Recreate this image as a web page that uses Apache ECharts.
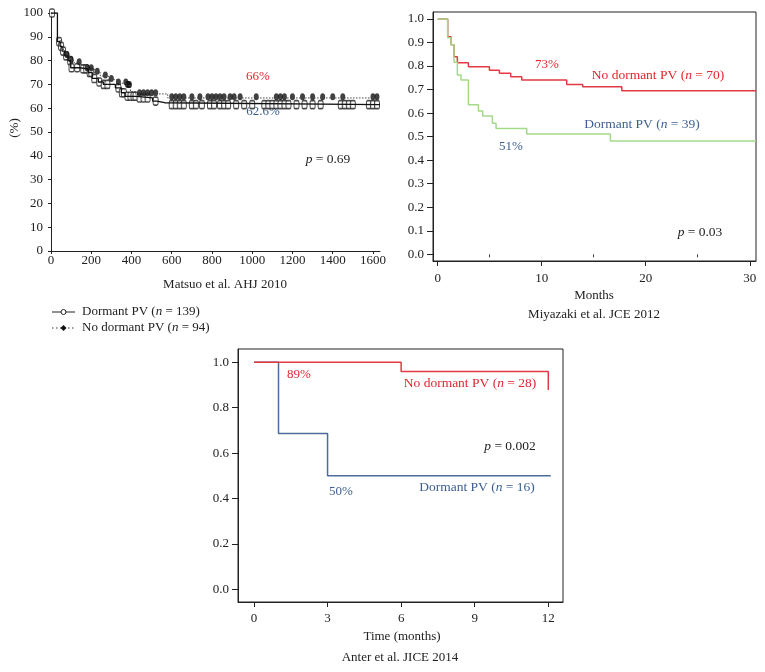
<!DOCTYPE html>
<html>
<head>
<meta charset="utf-8">
<script src="https://cdn.jsdelivr.net/npm/echarts@6/dist/echarts.min.js"></script>
<style>html,body{margin:0;padding:0;background:#fff}#c{width:765px;height:672px}</style>
</head>
<body>
<div id="c"></div>
<script>
// ---- Panel A: Matsuo et al. AHJ 2010 (days, %)
var matsuoDormantT = [0, 32, 45, 55, 68, 85, 98, 140, 185, 205, 235, 260, 320, 350, 368, 425, 505, 525, 565, 1635];
var matsuoDormantS = [100, 88, 86, 84, 82, 80, 77, 76.5, 75, 72.5, 71, 70, 68.5, 66.5, 65, 64.3, 63, 62.3, 61.5, 61.5];
var matsuoNoDormT = [0, 32, 48, 62, 75, 90, 115, 150, 180, 215, 245, 285, 330, 375, 395, 420, 580, 1635];
var matsuoNoDormS = [100, 88.5, 86, 84, 82, 80, 79, 78, 76.5, 75, 73.5, 72, 70.5, 69.5, 67, 66, 64.3, 64.3];
var matsuoDormantCensor = [5, 40, 50, 60, 75, 95, 102, 130, 160, 175, 192, 200, 215, 240, 262, 280, 335, 352, 362, 380, 395, 410, 420, 440, 460, 480, 520, 600, 620, 640, 660, 700, 720, 750, 790, 810, 840, 860, 880, 920, 960, 1000, 1060, 1080, 1100, 1120, 1140, 1160, 1180, 1220, 1260, 1300, 1340, 1440, 1460, 1480, 1500, 1580, 1600, 1620];
var matsuoNoDormCensor = [80, 100, 140, 180, 200, 230, 270, 300, 335, 372, 380, 385, 390, 440, 460, 480, 500, 520, 600, 620, 640, 660, 700, 740, 780, 800, 820, 840, 860, 890, 910, 940, 1020, 1120, 1140, 1160, 1200, 1250, 1300, 1350, 1400, 1450, 1600, 1620];
var matsuoXTicks = [0, 200, 400, 600, 800, 1000, 1200, 1400, 1600];
var matsuoYTicks = [0, 10, 20, 30, 40, 50, 60, 70, 80, 90, 100];

// ---- Panel B: Miyazaki et al. JCE 2012 (months, proportion)
var miyaNoDormT = [0, 0.96, 1.28, 1.57, 1.89, 2.95, 4.97, 5.93, 7.02, 8.08, 12.4, 13.94, 17.7, 30.6];
var miyaNoDormS = [1.0, 0.925, 0.89, 0.84, 0.814, 0.797, 0.782, 0.769, 0.754, 0.741, 0.722, 0.712, 0.695, 0.695];
var miyaDormT = [0, 0.96, 1.28, 1.57, 1.89, 2.24, 2.95, 3.91, 4.33, 5.26, 5.61, 8.56, 16.6, 30.6];
var miyaDormS = [1.0, 0.92, 0.89, 0.816, 0.762, 0.741, 0.635, 0.609, 0.588, 0.557, 0.535, 0.511, 0.482, 0.482];
var miyaXLabels = [0, 10, 20, 30];
var miyaXMinorTicks = [5, 15, 25];
var miyaYTicks = [0, 0.1, 0.2, 0.3, 0.4, 0.5, 0.6, 0.7, 0.8, 0.9, 1.0];

// ---- Panel C: Anter et al. JICE 2014 (months, proportion)
var anterDormT = [0, 1, 3, 12.1];
var anterDormS = [1.0, 0.687, 0.5, 0.5];
var anterNoDormT = [0, 6, 12];
var anterNoDormS = [1.0, 0.959, 0.878];
var anterXTicks = [0, 3, 6, 9, 12];
var anterYTicks = [0, 0.2, 0.4, 0.6, 0.8, 1.0];

var FONT = 'Liberation Serif';
var RED = '#e2262f', BLUE = '#3d5f8f', GREEN = '#a5d98a', RED2 = '#e23a44', BLUE2 = '#4b6c9b';

function pairs(T, S) { return T.map(function (t, i) { return [t, S[i]]; }); }
function stepAt(T, S, t) { var v = S[0]; for (var i = 0; i < T.length; i++) { if (T[i] <= t) v = S[i]; } return v; }
function censorPts(C, T, S) { return C.map(function (t) { return [t, stepAt(T, S, t)]; }); }
function fmt1(v) { return v.toFixed(1); }
function fmt0(v) { return String(v); }

function xAx(idx, min, max, labels, ticks, margin, tickLen, fmt) {
  return {
    type: 'value', gridIndex: idx, min: min, max: max,
    splitLine: { show: false },
    axisLine: { show: true, onZero: false, lineStyle: { color: '#222', width: 1 } },
    axisTick: { show: true, length: tickLen, customValues: ticks, lineStyle: { color: '#222' } },
    axisLabel: { customValues: labels, margin: margin, color: '#222', fontFamily: FONT, fontSize: 13, formatter: fmt }
  };
}
function yAx(idx, min, max, labels, margin, tickLen, fmt) {
  return {
    type: 'value', gridIndex: idx, min: min, max: max,
    splitLine: { show: false },
    axisLine: { show: true, onZero: false, lineStyle: { color: '#222', width: 1 } },
    axisTick: { show: true, length: tickLen, customValues: labels, lineStyle: { color: '#222' } },
    axisLabel: { customValues: labels, margin: margin, color: '#222', fontFamily: FONT, fontSize: 13, formatter: fmt }
  };
}
function txt(x, y, s, color, size, extra) {
  var o = {
    type: 'text', x: x, y: y, silent: true,
    style: {
      text: s, fill: color || '#222', font: (size || 13) + 'px ' + FONT,
      align: 'center', verticalAlign: 'middle',
      rich: { i: { fontStyle: 'italic', fontFamily: FONT, fontSize: size || 13, fill: color || '#222' } }
    }
  };
  if (extra) for (var k in extra) o[k] = extra[k];
  return o;
}

var minorAxis = {
  type: 'value', gridIndex: 1, min: -0.452, max: 30.6,
  splitLine: { show: false }, axisLine: { show: false }, axisLabel: { show: false },
  axisTick: { show: true, inside: true, length: 3, customValues: miyaXMinorTicks, lineStyle: { color: '#444' } }
};

var chart = echarts.init(document.getElementById('c'), null, { renderer: 'canvas' });
var option = {
  backgroundColor: '#fff',
  animation: false,
  grid: [
    { left: 51, top: 13, width: 329, height: 238, show: false, outerBoundsMode: 'none' },
    { left: 433, top: 12, width: 323, height: 249, show: true, borderColor: '#222', borderWidth: 1, outerBoundsMode: 'none' },
    { left: 238, top: 349, width: 325, height: 253, show: true, borderColor: '#222', borderWidth: 1, outerBoundsMode: 'none' }
  ],
  xAxis: [
    xAx(0, 0, 1635, matsuoXTicks, matsuoXTicks, 3, 3, fmt0),
    xAx(1, -0.452, 30.6, miyaXLabels, miyaXLabels, 11, 5, fmt0),
    xAx(2, -0.652, 12.6, anterXTicks, anterXTicks, 10, 5, fmt0),
    minorAxis
  ],
  yAxis: [
    yAx(0, 0, 100, matsuoYTicks, 8, 3, fmt0),
    yAx(1, -0.0285, 1.0297, miyaYTicks, 9, 6, fmt1),
    yAx(2, -0.0555, 1.0586, anterYTicks, 9, 6, fmt1)
  ],
  series: [
    // Panel A
    { type: 'line', xAxisIndex: 0, yAxisIndex: 0, step: 'end', showSymbol: false, data: pairs(matsuoNoDormT, matsuoNoDormS),
      lineStyle: { color: '#444', width: 1, type: [1.5, 1.5] } },
    { type: 'line', xAxisIndex: 0, yAxisIndex: 0, step: 'end', showSymbol: false, data: pairs(matsuoDormantT, matsuoDormantS),
      lineStyle: { color: '#111', width: 1.3 } },
    { type: 'scatter', xAxisIndex: 0, yAxisIndex: 0, symbol: 'roundRect', symbolSize: [5, 8],
      data: censorPts(matsuoDormantCensor, matsuoDormantT, matsuoDormantS),
      itemStyle: { color: '#fff', borderColor: '#222', borderWidth: 1.3 } },
    { type: 'scatter', xAxisIndex: 0, yAxisIndex: 0, symbol: 'circle', symbolSize: [5, 7],
      data: censorPts(matsuoNoDormCensor, matsuoNoDormT, matsuoNoDormS).map(function (p) { return [p[0], p[1] + 0.5]; }),
      itemStyle: { color: '#111' } },
    // Panel B
    { type: 'line', xAxisIndex: 1, yAxisIndex: 1, step: 'end', showSymbol: false, data: pairs(miyaNoDormT, miyaNoDormS),
      lineStyle: { color: RED2, width: 1.5 } },
    { type: 'line', xAxisIndex: 1, yAxisIndex: 1, step: 'end', showSymbol: false, data: pairs(miyaDormT, miyaDormS),
      lineStyle: { color: GREEN, width: 1.5 } },
    // Panel C
    { type: 'line', xAxisIndex: 2, yAxisIndex: 2, step: 'end', showSymbol: false, data: pairs(anterDormT, anterDormS),
      lineStyle: { color: BLUE2, width: 1.5 } },
    { type: 'line', xAxisIndex: 2, yAxisIndex: 2, step: 'end', showSymbol: false, data: pairs(anterNoDormT, anterNoDormS),
      lineStyle: { color: RED2, width: 1.5 } }
  ],
  graphic: [
    // Panel A texts
    txt(15, 128, '(%)', '#222', 13, { rotation: Math.PI / 2 }),
    txt(258, 77, '66%', RED, 13),
    txt(263, 112, '62.6%', BLUE, 13),
    txt(328, 159, '{i|p} = 0.69', '#222', 13.5),
    txt(225, 285, 'Matsuo et al. AHJ 2010', '#222', 13),
    { type: 'line', shape: { x1: 52, y1: 312, x2: 75, y2: 312 }, style: { stroke: '#222', lineWidth: 1 } },
    { type: 'circle', shape: { cx: 63.5, cy: 312, r: 2.5 }, style: { fill: '#fff', stroke: '#222', lineWidth: 1 } },
    { type: 'text', x: 82, y: 312, style: { text: 'Dormant PV ({i|n} = 139)', fill: '#222', font: '13px ' + FONT, verticalAlign: 'middle',
      rich: { i: { fontStyle: 'italic', fontFamily: FONT, fontSize: 13 } } } },
    { type: 'line', shape: { x1: 52, y1: 328, x2: 75, y2: 328 }, style: { stroke: '#333', lineWidth: 1, lineDash: [1.5, 2.5] } },
    { type: 'polygon', shape: { points: [[63.5, 325], [66.5, 328], [63.5, 331], [60.5, 328]] }, style: { fill: '#111' } },
    { type: 'text', x: 82, y: 328, style: { text: 'No dormant PV ({i|n} = 94)', fill: '#222', font: '13px ' + FONT, verticalAlign: 'middle',
      rich: { i: { fontStyle: 'italic', fontFamily: FONT, fontSize: 13 } } } },
    // Panel B texts
    txt(547, 65, '73%', RED, 13),
    txt(658, 75, 'No dormant PV ({i|n} = 70)', RED, 13.5),
    txt(642, 124, 'Dormant PV ({i|n} = 39)', BLUE, 13.5),
    txt(511, 147, '51%', BLUE, 13),
    txt(700, 232, '{i|p} = 0.03', '#222', 13.5),
    txt(594, 296, 'Months', '#222', 13),
    txt(594, 315, 'Miyazaki et al. JCE 2012', '#222', 13),
    // Panel C texts
    txt(299, 375, '89%', RED, 13),
    txt(470, 383, 'No dormant PV ({i|n} = 28)', RED, 13.5),
    txt(510, 446, '{i|p} = 0.002', '#222', 13.5),
    txt(341, 492, '50%', BLUE, 13),
    txt(477, 487, 'Dormant PV ({i|n} = 16)', BLUE, 13.5),
    txt(402, 637, 'Time (months)', '#222', 13),
    txt(400, 658, 'Anter et al. JICE 2014', '#222', 13)
  ]
};
chart.setOption(option);
</script>
</body>
</html>
